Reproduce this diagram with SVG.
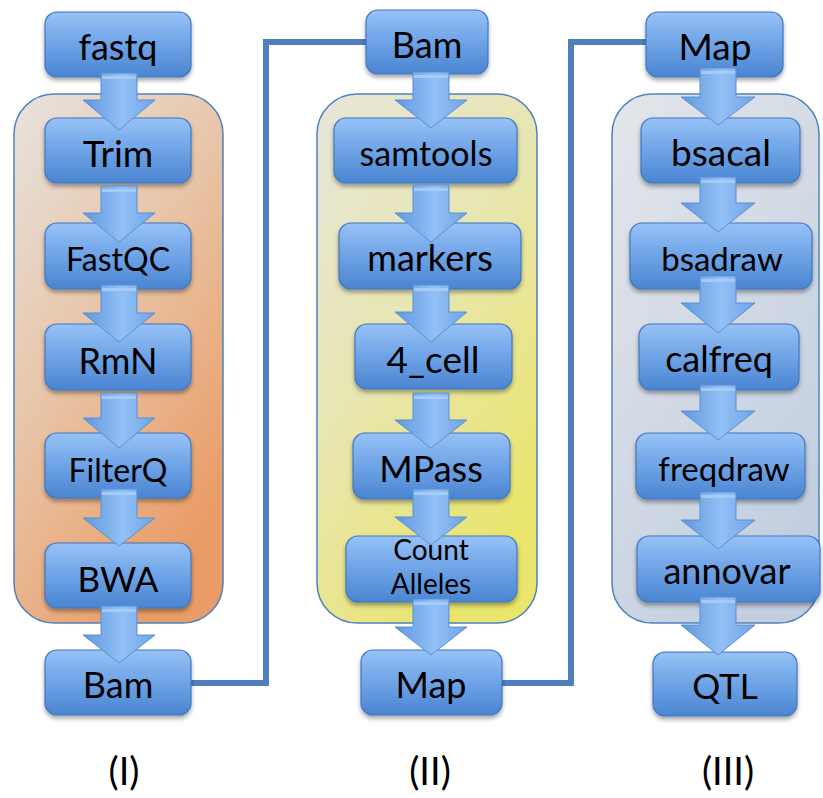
<svg xmlns="http://www.w3.org/2000/svg" width="823" height="798" viewBox="0 0 823 798">
  <defs>
    <linearGradient id="boxFill" x1="0" y1="0" x2="0" y2="1">
      <stop offset="0" stop-color="#97c2f7"/>
      <stop offset="0.5" stop-color="#6ea3e6"/>
      <stop offset="1" stop-color="#4a85d1"/>
    </linearGradient>
    <linearGradient id="arrowFill" x1="0" y1="0" x2="1" y2="0">
      <stop offset="0" stop-color="#5f98de"/>
      <stop offset="0.55" stop-color="#93c0f6"/>
      <stop offset="1" stop-color="#6ea4e6"/>
    </linearGradient>
    <linearGradient id="panelOrange" x1="0" y1="0" x2="0.6" y2="1">
      <stop offset="0" stop-color="#e7e3df"/>
      <stop offset="0.5" stop-color="#e8c4a6"/>
      <stop offset="1" stop-color="#ea9c66"/>
    </linearGradient>
    <linearGradient id="panelYellow" x1="0" y1="0" x2="0.6" y2="1">
      <stop offset="0" stop-color="#e7e6da"/>
      <stop offset="0.5" stop-color="#e8e6b0"/>
      <stop offset="1" stop-color="#eae56c"/>
    </linearGradient>
    <linearGradient id="panelGrey" x1="0" y1="0" x2="0.6" y2="1">
      <stop offset="0" stop-color="#e4e6ea"/>
      <stop offset="1" stop-color="#c3cfe0"/>
    </linearGradient>
    <filter id="shadow" x="-10%" y="-10%" width="120%" height="130%">
      <feDropShadow dx="0" dy="3" stdDeviation="2" flood-color="#000" flood-opacity="0.35"/>
    </filter>
  </defs>
  <style>
    .panel { stroke: #4f81bd; stroke-width: 1.5; }
    .box { fill: url(#boxFill); stroke: #4177c0; stroke-width: 1.2; filter: url(#shadow); }
    .lbl { font-family: Lato, "Liberation Sans", sans-serif; fill: #000; text-anchor: middle; }
    .arrow { fill: url(#arrowFill); stroke: #5b8fd4; stroke-width: 1; }
    .band { fill: #a9cdf8; opacity: 0.9; }
    .link { fill: none; stroke: #4f7fbd; stroke-width: 6; }
    .stage { font-family: Lato, "Liberation Sans", sans-serif; font-size: 38px; text-anchor: middle; fill: #000; }
  </style>

  <rect width="823" height="798" fill="#fff"/>

  <!-- stage panels -->
  <g id="panel-1"><rect class="panel" x="14" y="94" width="209" height="529" rx="40" fill="url(#panelOrange)"/></g>
  <g id="panel-2"><rect class="panel" x="317" y="94" width="220" height="529" rx="40" fill="url(#panelYellow)"/></g>
  <g id="panel-3"><rect class="panel" x="612" y="94" width="207" height="529" rx="40" fill="url(#panelGrey)"/></g>

  <!-- elbow links between stages -->
  <g id="connectors">
    <polyline class="link" points="188,683 266,683 266,42 368,42"/>
    <polyline class="link" points="500,683 571,683 571,42 648,42"/>
  </g>

  <!-- stage I -->
  <g id="fastq"><rect class="box" x="45" y="12" width="146" height="65" rx="12"/><text class="lbl" x="118" y="60" font-size="36">fastq</text></g>
  <g id="trim"><rect class="box" x="45" y="118" width="146" height="65" rx="12"/><text class="lbl" x="118" y="167" font-size="37">Trim</text></g>
  <g id="fastqc"><rect class="box" x="45" y="223" width="146" height="66" rx="12"/><text class="lbl" x="118" y="271" font-size="32">FastQC</text></g>
  <g id="rmn"><rect class="box" x="45" y="324" width="146" height="66" rx="12"/><text class="lbl" x="118" y="374" font-size="36">RmN</text></g>
  <g id="filterq"><rect class="box" x="45" y="433" width="146" height="65" rx="12"/><text class="lbl" x="118" y="482" font-size="32">FilterQ</text></g>
  <g id="bwa"><rect class="box" x="45" y="543" width="146" height="65" rx="12"/><text class="lbl" x="118" y="592" font-size="35">BWA</text></g>
  <g id="bam-out"><rect class="box" x="45" y="650" width="146" height="65" rx="12"/><text class="lbl" x="118" y="698" font-size="36">Bam</text></g>

  <!-- stage II -->
  <g id="bam-in"><rect class="box" x="366" y="10" width="122" height="64" rx="12"/><text class="lbl" x="427" y="58" font-size="36">Bam</text></g>
  <g id="samtools"><rect class="box" x="334" y="118" width="183" height="65" rx="12"/><text class="lbl" x="426" y="166" font-size="34">samtools</text></g>
  <g id="markers"><rect class="box" x="339" y="223" width="182" height="66" rx="12"/><text class="lbl" x="430" y="271" font-size="36">markers</text></g>
  <g id="cell4"><rect class="box" x="355" y="324" width="157" height="65" rx="12"/><text class="lbl" x="433" y="373" font-size="37">4_cell</text></g>
  <g id="mpass"><rect class="box" x="353" y="433" width="157" height="66" rx="12"/><text class="lbl" x="431" y="482" font-size="36">MPass</text></g>
  <g id="count-alleles"><rect class="box" x="346" y="536" width="171" height="66" rx="12"/><text class="lbl" font-size="28"><tspan x="431" y="560">Count</tspan><tspan x="431" y="594">Alleles</tspan></text></g>
  <g id="map-out"><rect class="box" x="361" y="650" width="141" height="65" rx="12"/><text class="lbl" x="431" y="698" font-size="36">Map</text></g>

  <!-- stage III -->
  <g id="map-in"><rect class="box" x="646" y="12" width="137" height="65" rx="12"/><text class="lbl" x="715" y="60" font-size="37">Map</text></g>
  <g id="bsacal"><rect class="box" x="641" y="118" width="159" height="65" rx="12"/><text class="lbl" x="721" y="166" font-size="37">bsacal</text></g>
  <g id="bsadraw"><rect class="box" x="630" y="223" width="182" height="66" rx="12"/><text class="lbl" x="722" y="271" font-size="33">bsadraw</text></g>
  <g id="calfreq"><rect class="box" x="639" y="324" width="160" height="66" rx="12"/><text class="lbl" x="719" y="372" font-size="36">calfreq</text></g>
  <g id="freqdraw"><rect class="box" x="636" y="433" width="169" height="66" rx="12"/><text class="lbl" x="724" y="481" font-size="33">freqdraw</text></g>
  <g id="annovar"><rect class="box" x="637" y="536" width="183" height="66" rx="12"/><text class="lbl" x="727" y="584" font-size="36">annovar</text></g>
  <g id="qtl"><rect class="box" x="653" y="652" width="144" height="64" rx="12"/><text class="lbl" x="725" y="699" font-size="35">QTL</text></g>

  <!-- block arrows between steps -->
  <g id="flow-arrows">
    <!-- stage I, centre x=119 -->
    <path class="arrow" d="M101,73 H137 V100 H155 L119,130 L83,100 H101 Z"/><rect class="band" x="102" y="76" width="34" height="3"/>
    <path class="arrow" d="M101,186 H137 V213 H155 L119,242 L83,213 H101 Z"/><rect class="band" x="102" y="189" width="34" height="3"/>
    <path class="arrow" d="M101,285 H137 V313 H155 L119,342 L83,313 H101 Z"/><rect class="band" x="102" y="288" width="34" height="3"/>
    <path class="arrow" d="M101,393 H137 V418 H155 L119,448 L83,418 H101 Z"/><rect class="band" x="102" y="396" width="34" height="3"/>
    <path class="arrow" d="M101,489 H137 V518 H155 L119,546 L83,518 H101 Z"/><rect class="band" x="102" y="492" width="34" height="3"/>
    <path class="arrow" d="M101,606 H137 V635 H155 L119,663 L83,635 H101 Z"/><rect class="band" x="102" y="609" width="34" height="3"/>
    <!-- stage II, centre x=431 -->
    <path class="arrow" d="M413,72 H449 V100 H467 L431,128 L395,100 H413 Z"/><rect class="band" x="414" y="75" width="34" height="3"/>
    <path class="arrow" d="M413,185 H449 V213 H467 L431,242 L395,213 H413 Z"/><rect class="band" x="414" y="188" width="34" height="3"/>
    <path class="arrow" d="M413,285 H449 V312 H467 L431,342 L395,312 H413 Z"/><rect class="band" x="414" y="288" width="34" height="3"/>
    <path class="arrow" d="M413,393 H449 V420 H467 L431,448 L395,420 H413 Z"/><rect class="band" x="414" y="396" width="34" height="3"/>
    <path class="arrow" d="M413,489 H449 V517 H467 L431,545 L395,517 H413 Z"/><rect class="band" x="414" y="492" width="34" height="3"/>
    <path class="arrow" d="M413,599 H449 V627 H467 L431,655 L395,627 H413 Z"/><rect class="band" x="414" y="602" width="34" height="3"/>
    <!-- stage III, centre x=718 -->
    <path class="arrow" d="M700,68 H736 V97 H755 L718,125 L681,97 H700 Z"/><rect class="band" x="701" y="71" width="34" height="3"/>
    <path class="arrow" d="M700,177 H736 V203 H755 L718,232 L681,203 H700 Z"/><rect class="band" x="701" y="180" width="34" height="3"/>
    <path class="arrow" d="M700,276 H736 V303 H755 L718,333 L681,303 H700 Z"/><rect class="band" x="701" y="279" width="34" height="3"/>
    <path class="arrow" d="M700,385 H736 V411 H755 L718,440 L681,411 H700 Z"/><rect class="band" x="701" y="388" width="34" height="3"/>
    <path class="arrow" d="M700,492 H736 V520 H755 L718,549 L681,520 H700 Z"/><rect class="band" x="701" y="495" width="34" height="3"/>
    <path class="arrow" d="M700,597 H736 V625 H755 L718,655 L681,625 H700 Z"/><rect class="band" x="701" y="600" width="34" height="3"/>
  </g>

  <!-- stage captions -->
  <g id="captions">
    <text class="stage" x="124" y="785">(I)</text>
    <text class="stage" x="430" y="785">(II)</text>
    <text class="stage" x="728" y="785">(III)</text>
  </g>
</svg>
